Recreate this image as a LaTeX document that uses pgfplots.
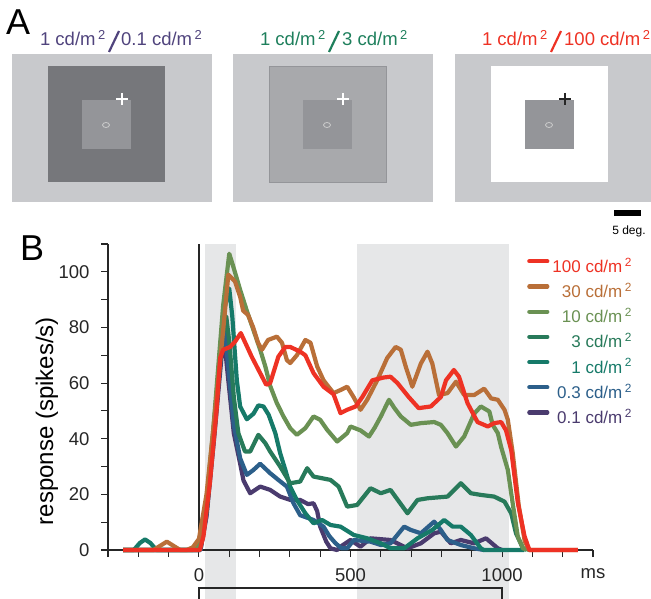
\documentclass[border=0pt]{standalone}
\usepackage{fontspec}
\setmainfont{Liberation Sans}
\usepackage{pgfplots}
\pgfplotsset{compat=1.18}

\definecolor{cred}{RGB}{238,50,36}
\definecolor{cbrown}{RGB}{185,111,56}
\definecolor{colive}{RGB}{106,145,83}
\definecolor{cdgreen}{RGB}{40,122,90}
\definecolor{cteal}{RGB}{22,122,105}
\definecolor{cblue}{RGB}{44,95,138}
\definecolor{cpurple}{RGB}{74,59,110}
\definecolor{bandgray}{RGB}{230,231,232}
\definecolor{panelgray}{RGB}{200,201,204}
\definecolor{darkpanel}{RGB}{118,119,123}
\definecolor{midpanel}{RGB}{168,169,172}
\definecolor{centerpanel}{RGB}{148,149,153}
\definecolor{txtpurple}{RGB}{80,68,125}
\definecolor{txtgreen}{RGB}{30,127,92}

\newcommand{\cdm}{cd/m\hspace{2.5pt}\textsuperscript{2}}

\begin{document}
\begin{tikzpicture}

% ---- panel A ----
\node[anchor=north west, inner sep=0pt, font=\fontsize{36}{36}\selectfont] at (6pt,-10pt) {A};
\tikzset{lbl/.style={inner sep=0pt, font=\fontsize{18.5}{18.5}\selectfont}}
% panel 1
\fill[panelgray] (12pt,-54pt) rectangle (212pt,-202pt);
\fill[darkpanel] (48pt,-66pt) rectangle (165pt,-182pt);
\fill[centerpanel] (82pt,-100pt) rectangle (131pt,-149pt);
\draw[white, line width=2pt] (116pt,-99pt) -- (128pt,-99pt) (122pt,-93pt) -- (122pt,-105pt);
\draw[gray!40, line width=0.8pt] (106pt,-125pt) ellipse (3.5pt and 2.5pt);
\node[lbl, anchor=base east, txtpurple] at (106pt,-46pt) {1 \cdm};
\draw[txtpurple, line width=2.2pt] (109pt,-52pt) -- (119pt,-31pt);
\node[lbl, anchor=base west, txtpurple] at (121pt,-46pt) {0.1 \cdm};
% panel 2
\fill[panelgray] (233pt,-54pt) rectangle (433pt,-202pt);
\filldraw[fill=midpanel, draw=centerpanel, line width=0.6pt] (269pt,-66pt) rectangle (386pt,-182pt);
\fill[centerpanel] (303pt,-100pt) rectangle (352pt,-149pt);
\draw[white, line width=2pt] (337pt,-99pt) -- (349pt,-99pt) (343pt,-93pt) -- (343pt,-105pt);
\draw[gray!40, line width=0.8pt] (327pt,-125pt) ellipse (3.5pt and 2.5pt);
\node[lbl, anchor=base east, txtgreen] at (326pt,-46pt) {1 \cdm};
\draw[txtgreen, line width=2.2pt] (329pt,-52pt) -- (339pt,-31pt);
\node[lbl, anchor=base west, txtgreen] at (342pt,-46pt) {3 \cdm};
% panel 3
\fill[panelgray] (455pt,-54pt) rectangle (655pt,-202pt);
\fill[white] (491pt,-66pt) rectangle (608pt,-182pt);
\fill[centerpanel] (525pt,-100pt) rectangle (574pt,-149pt);
\draw[black!85, line width=2pt] (559pt,-99pt) -- (571pt,-99pt) (565pt,-93pt) -- (565pt,-105pt);
\draw[gray!40, line width=0.8pt] (549pt,-125pt) ellipse (3.5pt and 2.5pt);
\node[lbl, anchor=base east, cred] at (548pt,-46pt) {1 \cdm};
\draw[cred, line width=2.2pt] (551pt,-52pt) -- (561pt,-31pt);
\node[lbl, anchor=base west, cred] at (564pt,-46pt) {100 \cdm};
% scale bar
\fill[black] (614pt,-210pt) rectangle (641pt,-216pt);
\node[font=\fontsize{12}{12}\selectfont, inner sep=0pt] at (629pt,-231pt) {5 deg.};

% ---- panel B ----
\node[anchor=north west, inner sep=0pt, font=\fontsize{36}{36}\selectfont] at (20pt,-236pt) {B};
\node[rotate=90, inner sep=0pt, font=\fontsize{24}{24}\selectfont] at (47pt,-421pt) {response (spikes/s)};

\begin{axis}[
  set layers,
  at={(108pt,-550pt)}, anchor=south west,
  scale only axis, width=485pt, height=306pt,
  xmin=-300, xmax=1300, ymin=0, ymax=110,
  axis lines*=left,
  clip=false,
  axis line style={line width=1.2pt, black!85},
  tick style={line width=1.1pt, black!85},
  tick align=outside,
  major tick length=7pt,
  xtick={-300,-200,...,1300},
  xticklabels={,,,0,,,,,500,,,,,1000,,,ms},
  ytick={0,10,...,110},
  yticklabels={0,,20,,40,,60,,80,,100,},
  tick label style={font=\fontsize{18.5}{18.5}\selectfont, black!85},
  yticklabel style={xshift=-8pt},
  xticklabel style={yshift=-8pt},
  legend cell align=right,
  legend style={at={(0.864,0.951)}, anchor=north west, draw=none, fill=none,
    inner sep=0pt, row sep=10.6pt,
    nodes={inner sep=0pt, text height=12.5pt, text depth=1.5pt},
    font=\fontsize{17}{17}\selectfont,
    /tikz/every odd column/.append style={column sep=3pt}},
  legend image code/.code={\draw[#1, line cap=round] (2pt,5.5pt) -- (20pt,5.5pt);},
  every axis plot/.append style={line width=4.2pt, line join=round},
]
\begin{pgfonlayer}{axis background}
\fill[bandgray] (axis cs:20,-20) rectangle (axis cs:122,110);
\fill[bandgray] (axis cs:520,-20) rectangle (axis cs:1023,110);
\end{pgfonlayer}
\draw[line width=1.3pt, black!85] (axis cs:0,0) -- (axis cs:0,110);
\draw[line width=1.5pt, black!85] (axis cs:0,-20) -- (axis cs:0,-13.7) -- (axis cs:1000,-13.7) -- (axis cs:1000,-20);

\addlegendimage{cred}\addlegendentry{\textcolor{cred}{100 \cdm}}
\addlegendimage{cbrown}\addlegendentry{\textcolor{cbrown}{30 \cdm}}
\addlegendimage{colive}\addlegendentry{\textcolor{colive}{10 \cdm}}
\addlegendimage{cdgreen}\addlegendentry{\textcolor{cdgreen}{3 \cdm}}
\addlegendimage{cteal}\addlegendentry{\textcolor{cteal}{1 \cdm}}
\addlegendimage{cblue}\addlegendentry{\textcolor{cblue}{0.3 \cdm}}
\addlegendimage{cpurple}\addlegendentry{\textcolor{cpurple}{0.1 \cdm}}

% 0.1 cd/m2
\addplot[cpurple, forget plot] table {
-250 0
5 0
25 12
50 40
75 70
85 74
95 63
115 42
136 31
147 25
169 20.4
202 22.8
235 21.6
268 19.2
301 18
334 18
360 16.5
378 16.8
390 14
400 8.4
420 3
434 0.6
456 0
467 1.2
500 3.6
533 1.2
566 4.2
632 3.6
688 0.6
732 2.4
776 6
798 6.6
831 2.4
864 3.6
908 2.4
947 4.2
986 0.6
1000 0
};
% 0.3 cd/m2
\addplot[cblue, forget plot] table {
-250 0
5 0
25 13
50 42
75 74
85 78
95 68
115 45
136 33
158 27
180 28.8
202 31
235 27.6
262 25.2
290 22.8
312 16.8
334 12.5
378 10.8
411 8.4
430 5
450 2.5
470 0.6
489 0.6
511 3.6
566 3
600 1.8
632 2.4
677 8.4
699 7.2
732 6
776 10.2
798 7.2
820 3.6
864 1.8
908 0.6
940 0
};
% 1 cd/m2
\addplot[cteal, forget plot] table {
-250 0
-215 0
-195 2.5
-178 3.8
-160 2.5
-140 0
0 0
25 14
50 45
80 85
100 94
110 84
125 61
136 51.6
158 47
180 49
196 52
213 51.6
230 48.6
252 42
268 34.8
285 28.8
301 22.8
323 18
351 13.2
378 9.6
406 10.8
434 9
467 8.4
511 5.4
555 4.2
600 2.4
632 0.6
677 0.6
721 4.2
770 7.2
809 10.8
837 8.4
864 8.4
897 5.4
930 0.6
940 0
1073 0
};
% 3 cd/m2
\addplot[cdgreen, forget plot] table {
-250 0
0 0
25 14
50 42
75 75
90 84
100 75
115 55
130 42
152 35.4
169 35.4
196 41.4
219 38.4
235 35.4
268 30
301 24
334 24.6
357 29.4
378 26.4
406 25.8
434 25.2
461 22.8
489 15.6
522 16.2
566 22.2
600 20.4
632 21.6
688 13.2
721 18
754 18.6
820 19.2
864 24
897 20.4
930 19.8
974 19.2
1008 17.4
1030 13.2
1046 6
1069 0.6
1080 0
};
% 10 cd/m2
\addplot[colive, forget plot] table {
-250 0
-20 0
0 2
20 12
47 43
80 88
100 106.5
113 102
136 93.5
158 86
180 79
202 72
219 66
235 59
257 52.8
279 48
301 43.8
323 41.4
351 43.8
378 48
400 46.8
423 43.2
456 39
489 42
500 44.4
533 43
561 40.8
580 44
600 48
627 54
645 51
666 48
699 45
732 45.6
776 46
798 45
820 42
848 37.2
875 40.8
908 49
930 51.6
958 49.8
969 45
986 42
997 37
1019 28.8
1035 16.8
1052 4.8
1069 0.6
1090 0
};
% 30 cd/m2
\addplot[cbrown, forget plot] table {
-250 0
-150 0
-128 1.5
-106 3
-84 1.5
-62 0
-40 0
-20 1
0 4
25 20
47 43
80 79
97 99
119 96.5
136 91
146 86
162 84.5
179 80
195 74.5
208 72
228 75.5
257 76.7
274 74.5
290 68.3
301 67.2
323 70
351 75.5
368 74.5
390 66
411 61
444 56.4
467 57.5
489 58.7
510 55
533 50.4
555 54
588 61
621 69
649 73
666 72
682 66
704 58.7
732 67
754 71.3
770 67
792 55.7
820 56.4
848 60.5
875 55.7
908 55.7
941 58
964 54.5
986 54
1008 50.4
1019 46.8
1035 35
1055 16
1075 3
1090 0
1250 0
};
% 100 cd/m2
\addplot[cred, forget plot] table {
-250 0
3 0
15 5
36 24
58 50
70 69
80 72
103 73
120 75
138 78
155 74
174 69.5
202 63.6
222 59.4
235 60
262 69.5
285 73
301 73
334 71.3
351 70
378 63.6
411 58.7
444 56
467 49.2
489 50.4
517 51.6
539 55
572 61
609 62
632 62.3
655 60
692 55
725 51
765 51.6
798 55
815 61
841 64.7
858 62.3
886 52.8
919 46
953 44.4
974 45.6
997 46
1013 43
1030 36
1052 17
1074 5
1090 0
1250 0
};
\end{axis}
\pgfresetboundingbox
\path[use as bounding box] (0pt,0pt) rectangle (651pt,-599pt);
\end{tikzpicture}
\end{document}
